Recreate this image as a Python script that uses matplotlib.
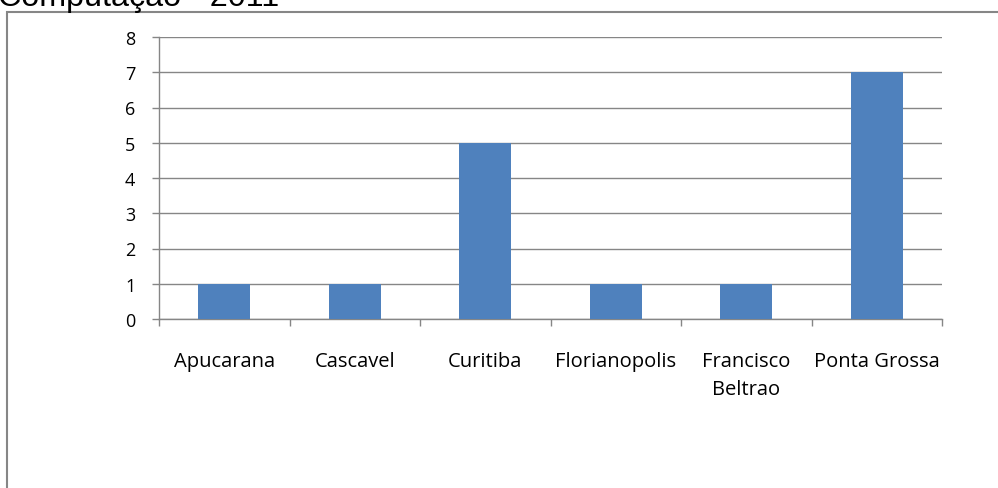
import matplotlib

matplotlib.use("Agg")
import matplotlib.pyplot as plt  # noqa: E402
import numpy as np  # noqa: E402
from matplotlib.patches import Rectangle  # noqa: E402

TITLE = "Computação - 2011"
CITIES = ["Apucarana", "Cascavel", "Curitiba", "Florianopolis",
          "Francisco\nBeltrao", "Ponta Grossa"]
COUNTS = [1, 1, 5, 1, 1, 7]
Y_TICKS = [0, 1, 2, 3, 4, 5, 6, 7, 8]

GRID = "#868686"
BAR = "#4F81BD"

fig = plt.figure(figsize=(9.98, 4.89), dpi=100)

# outer chart frame, running off the right and bottom edges
fig.patches.append(Rectangle((7 / 998, -0.1), 1.2, 1.1 - 13 / 489,
                             transform=fig.transFigure, fill=False,
                             edgecolor=GRID, lw=1.5))
fig.text(-0.002, 1 - 6 / 489, TITLE, fontsize=23.2, family="Liberation Sans",
         ha="left", va="baseline")

ax = fig.add_axes([159 / 998, 1 - 320 / 489, (942 - 159) / 998, (320 - 38) / 489])
x = np.arange(len(CITIES))
ax.bar(x, COUNTS, width=0.4, color=BAR, zorder=3)

ax.set_xlim(-0.5, len(CITIES) - 0.5)
ax.set_ylim(0, 8)
ax.set_yticks(Y_TICKS)
ax.set_yticklabels([str(v) for v in Y_TICKS], family="Open Sans", fontsize=13)
ax.yaxis.grid(True, color=GRID, lw=1.0, zorder=0)
ax.tick_params(axis="y", length=5, width=1.0, color=GRID, pad=12)

# boundary ticks between categories, labels centred on the bars
ax.set_xticks(np.arange(len(CITIES) + 1) - 0.5)
ax.set_xticklabels([])
ax.set_xticks(x, minor=True)
ax.set_xticklabels(CITIES, minor=True, family="Open Sans", fontsize=14.5,
                   linespacing=1.53)
ax.tick_params(axis="x", which="major", length=5, width=1.0, color=GRID)
ax.tick_params(axis="x", which="minor", length=0, pad=23)

for side in ("top", "right"):
    ax.spines[side].set_visible(False)
for side in ("left", "bottom"):
    ax.spines[side].set_color(GRID)
    ax.spines[side].set_linewidth(1.0)
ax.set_axisbelow(True)

fig.savefig("out.png", dpi=100)
